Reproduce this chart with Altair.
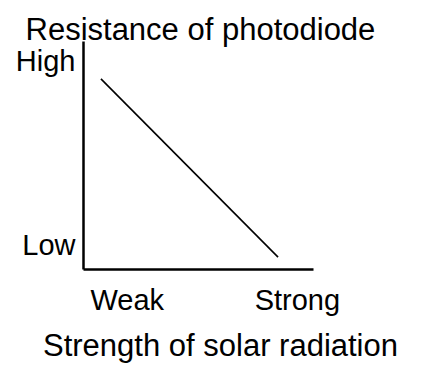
import altair as alt
import pandas as pd

# Data
x_vals = [0.78, 8.48]
y_vals = [8.34, 0.52]
x_tick_vals = [1.9, 9.3]
x_tick_labels = ["Weak", "Strong"]
y_tick_vals = [1.05, 9.1]
y_tick_labels = ["Low", "High"]

df = pd.DataFrame({"x": x_vals, "y": y_vals})

font = "Liberation Sans"
fs = 31
lfs = 29

x_expr = "datum.value < 5 ? '%s' : '%s'" % (x_tick_labels[0], x_tick_labels[1])
y_expr = "datum.value < 5 ? '%s' : '%s'" % (y_tick_labels[0], y_tick_labels[1])

chart = alt.Chart(df).mark_line(color="black", strokeWidth=1.6).encode(
    x=alt.X("x:Q", scale=alt.Scale(domain=[0, 10], nice=False, zero=False),
            axis=alt.Axis(values=x_tick_vals, labelExpr=x_expr, ticks=False, grid=False,
                          domainColor="black", domainWidth=2.5,
                          labelFont=font, labelFontSize=lfs, labelColor="black",
                          labelPadding=17, labelFlush=False, labelOverlap=False,
                          title="Strength of solar radiation",
                          titleFont=font, titleFontSize=fs, titleFontWeight="normal",
                          titleColor="black", titleX=137, titleY=86,
                          titleAlign="center", titleBaseline="alphabetic")),
    y=alt.Y("y:Q", scale=alt.Scale(domain=[0, 10], nice=False, zero=False),
            axis=alt.Axis(values=y_tick_vals, labelExpr=y_expr, ticks=False, grid=False,
                          domainColor="black", domainWidth=2.5,
                          labelFont=font, labelFontSize=lfs, labelColor="black",
                          labelPadding=8, labelFlush=False, labelOverlap=False,
                          title="Resistance of photodiode",
                          titleFont=font, titleFontSize=fs, titleFontWeight="normal",
                          titleColor="black", titleAngle=0, titleX=-58, titleY=-2,
                          titleAlign="left", titleBaseline="alphabetic")),
).properties(
    width=230, height=228,
    autosize=alt.AutoSizeParams(type="none"),
    padding={"left": 75, "top": 33, "right": 111, "bottom": 95},
).configure(background="white").configure_view(stroke=None)

chart.save("out.html", embed_options={"renderer": "svg", "actions": False})
